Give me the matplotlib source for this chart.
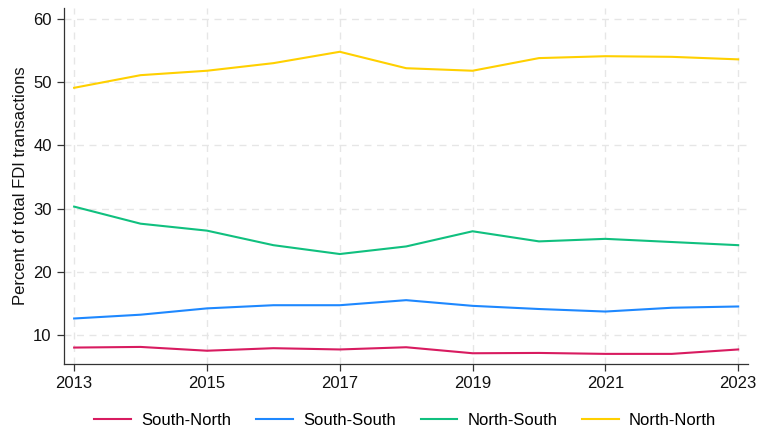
import matplotlib.pyplot as plt

years = list(range(2013, 2024))
south_north = [8.0, 8.1, 7.5, 7.9, 7.7, 8.05, 7.1, 7.15, 7.0, 7.0, 7.7]
south_south = [12.6, 13.2, 14.2, 14.7, 14.7, 15.5, 14.6, 14.1, 13.7, 14.3, 14.5]
north_south = [30.3, 27.6, 26.5, 24.2, 22.8, 24.0, 26.4, 24.8, 25.2, 24.7, 24.2]
north_north = [49.1, 51.1, 51.8, 53.0, 54.8, 52.2, 51.8, 53.8, 54.1, 54.0, 53.6]

plt.rcParams["font.family"] = ["Liberation Sans", "DejaVu Sans"]

fig = plt.figure(figsize=(7.59, 4.30), dpi=100)
ax = fig.add_axes([0.0837, 0.1535, 0.902, 0.8275])

series = [
    ("South-North", south_north, "#D81B60"),
    ("South-South", south_south, "#1E88FF"),
    ("North-South", north_south, "#10C07F"),
    ("North-North", north_north, "#FFD000"),
]
for name, vals, col in series:
    ax.plot(years, vals, color=col, linewidth=1.5, label=name)

ax.set_xlim(2012.84, 2023.15)
ax.set_ylim(5.4, 61.7)
ax.set_xticks([2013, 2015, 2017, 2019, 2021, 2023])
ax.set_yticks([10, 20, 30, 40, 50, 60])
ax.grid(True, color="#E6E6E6", linestyle=(0, (5, 4)), linewidth=1.0)
ax.set_axisbelow(True)

for s in ["top", "right"]:
    ax.spines[s].set_visible(False)
for s in ["left", "bottom"]:
    ax.spines[s].set_color("#333333")
    ax.spines[s].set_linewidth(0.9)
ax.tick_params(axis="both", labelsize=12, color="#333333", length=5, width=0.9,
               labelcolor="#111111")
ax.set_ylabel("Percent of total FDI transactions", fontsize=12, color="#111111")

fig.legend(loc="center", ncol=4, frameon=False, fontsize=12,
           bbox_to_anchor=(0.534, 0.023), handlelength=2.2, columnspacing=1.5,
           handletextpad=0.6)

fig.savefig("out.png", dpi=100)
